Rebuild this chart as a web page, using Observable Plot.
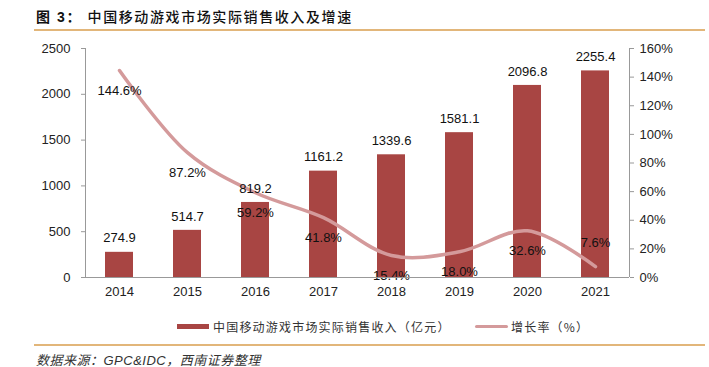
<!DOCTYPE html>
<html>
<head>
<meta charset="utf-8">
<script src="https://cdn.jsdelivr.net/npm/d3@7"></script>
<script src="https://cdn.jsdelivr.net/npm/@observablehq/plot@0.6"></script>
<style>
  body { margin: 0; background: #fff; }
  #wrap { position: relative; width: 709px; height: 367px; overflow: hidden; font-family: "Liberation Sans", "Noto Sans CJK SC", sans-serif; }
  #title { position: absolute; left: 36px; top: 6px; font-size: 14px; font-weight: 500; letter-spacing: 1.6px; color: #111; font-family: "Liberation Sans", "Noto Sans CJK SC", sans-serif; }
  #title b { font-weight: bold; }
  .hr { position: absolute; left: 34px; width: 671px; height: 2px; background: #e2b67a; }
  #chart { position: absolute; left: 0; top: 32px; }
  #legend { position: absolute; top: 318px; left: 0; width: 709px; font-size: 12px; color: #333; font-family: "Noto Sans CJK SC", sans-serif; }
  .item { position: absolute; display: flex; align-items: center; white-space: nowrap; letter-spacing: 1.2px; }
  #source { position: absolute; left: 36px; top: 350px; font-size: 13px; font-style: italic; color: #333; font-family: "Liberation Sans", "Noto Sans CJK SC", sans-serif; letter-spacing: 0.5px; }
</style>
</head>
<body>
<div id="wrap">
  <div id="title"><b>图 3：</b> 中国移动游戏市场实际销售收入及增速</div>
  <div class="hr" style="top:29px"></div>
  <div id="chart"></div>
  <div id="legend"></div>
  <div class="hr" style="top:344px"></div>
  <div id="source">数据来源：GPC&amp;IDC，西南证券整理</div>
</div>
<script>
const years = ["2014", "2015", "2016", "2017", "2018", "2019", "2020", "2021"];
const revenue = [274.9, 514.7, 819.2, 1161.2, 1339.6, 1581.1, 2096.8, 2255.4];
const growth = [144.6, 87.2, 59.2, 41.8, 15.4, 18.0, 32.6, 7.6];
const leftTicks = [0, 500, 1000, 1500, 2000, 2500];
const rightTicks = [0, 20, 40, 60, 80, 100, 120, 140, 160];
const seriesNames = ["中国移动游戏市场实际销售收入（亿元）", "增长率（%）"];

const barColor = "#a84543";
const lineColor = "#d49a9b";
const Y_MAX = 2500, R_MAX = 160;
const toLeft = g => g / R_MAX * Y_MAX;

const data = years.map((y, i) => ({year: y, rev: revenue[i], g: growth[i], gy: toLeft(growth[i]), last: i === years.length - 1}));

const axisLines = (index, scales, values, dims) => {
  const g = d3.create("svg:g").attr("stroke", "#999").attr("stroke-width", 1);
  const l = dims.marginLeft, r = dims.width - dims.marginRight;
  const t = dims.marginTop, b = dims.height - dims.marginBottom;
  g.append("line").attr("x1", l + 0.5).attr("x2", l + 0.5).attr("y1", t).attr("y2", b);
  g.append("line").attr("x1", r + 0.5).attr("x2", r + 0.5).attr("y1", t).attr("y2", b);
  g.append("line").attr("x1", l).attr("x2", r).attr("y1", b + 0.5).attr("y2", b + 0.5);
  return g.node();
};

const chart = Plot.plot({
  width: 709,
  height: 280,
  marginLeft: 85,
  marginRight: 80,
  marginTop: 16,
  marginBottom: 35,
  style: {fontFamily: "Liberation Sans, Noto Sans CJK SC, sans-serif", fontSize: "13px", color: "#222", background: "transparent"},
  x: {domain: years, paddingInner: 0.59, paddingOuter: 0.295, align: 0.5},
  y: {domain: [0, Y_MAX]},
  marks: [
    Plot.barY(data, {x: "year", y: "rev", fill: barColor}),
    Plot.line(data, {x: "year", y: "gy", stroke: lineColor, strokeWidth: 3.5, curve: "catmull-rom", strokeLinecap: "round"}),
    Plot.text(data, {x: "year", y: "rev", text: d => d.rev.toFixed(1), dy: -14, fontSize: 13, fill: "#111"}),
    Plot.text(data.filter(d => !d.last), {x: "year", y: "gy", text: d => d.g.toFixed(1) + "%", dy: 20, fontSize: 13, fill: "#111"}),
    Plot.text(data.filter(d => d.last), {x: "year", y: "gy", text: d => d.g.toFixed(1) + "%", dy: -24, fontSize: 13, fill: "#111"}),
    axisLines,
    Plot.axisY({anchor: "left", ticks: leftTicks, tickFormat: d => String(d), tickSize: 4, tickPadding: 11, stroke: "#999", label: null, fontSize: 13}),
    Plot.axisY({anchor: "right", ticks: rightTicks.map(toLeft), tickFormat: d => Math.round(d / Y_MAX * R_MAX) + "%", tickSize: 4, tickPadding: 6, stroke: "#999", label: null, fontSize: 13}),
    Plot.axisX({tickSize: 0, tickPadding: 9, label: null, fontSize: 13})
  ]
});
document.getElementById("chart").appendChild(chart);

const legend = document.getElementById("legend");
const items = [
  {name: seriesNames[0], left: 177, sw: `<span style="display:inline-block;width:32px;height:5px;background:${barColor};margin-right:4px"></span>`},
  {name: seriesNames[1], left: 475, sw: `<span style="display:inline-block;width:33px;height:3px;border-radius:2px;background:${lineColor};margin-right:3px"></span>`}
];
items.forEach(it => {
  const d = document.createElement("div");
  d.className = "item";
  d.style.left = it.left + "px";
  d.innerHTML = it.sw + `<span>${it.name}</span>`;
  legend.appendChild(d);
});
</script>
</body>
</html>
